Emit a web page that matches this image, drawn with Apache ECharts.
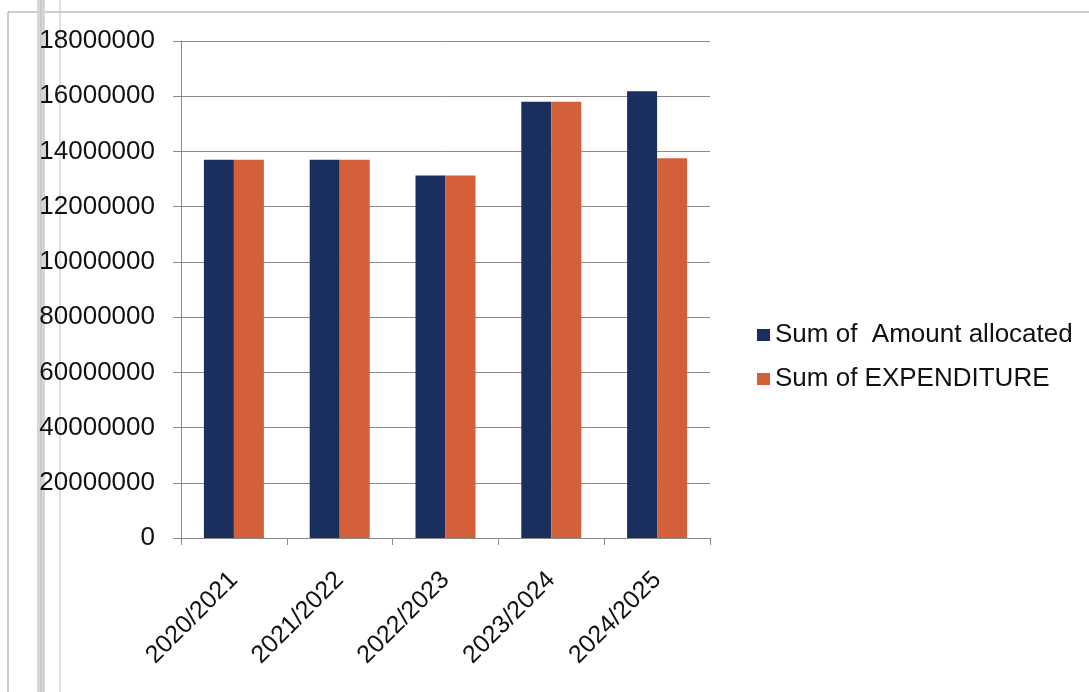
<!DOCTYPE html>
<html>
<head>
<meta charset="utf-8">
<script src="https://cdn.jsdelivr.net/npm/echarts@6/dist/echarts.min.js"></script>
<style>
html,body{margin:0;padding:0;background:#fff;}
#chart{width:1089px;height:692px;}
</style>
</head>
<body>
<div id="chart"></div>
<script>
const categories = ['2020/2021', '2021/2022', '2022/2023', '2023/2024', '2024/2025'];
const amountAllocated = [137000000, 137000000, 131300000, 158000000, 161800000];
const expenditure = [137000000, 137000000, 131300000, 158000000, 137500000];
const yTickLabels = ['0', '20000000', '40000000', '60000000', '80000000', '10000000', '12000000', '14000000', '16000000', '18000000'];
const seriesNames = ['Sum of  Amount allocated', 'Sum of EXPENDITURE'];

const chart = echarts.init(document.getElementById('chart'));
const FONT = 'Liberation Sans, Arial, sans-serif';
chart.setOption({
  animation: false,
  backgroundColor: '#ffffff',
  textStyle: { fontFamily: FONT },
  graphic: [
    { type: 'line', shape: { x1: 8, y1: 12, x2: 1089, y2: 12 }, style: { stroke: '#9a9a9a', lineWidth: 1 } },
    { type: 'line', shape: { x1: 8, y1: 12, x2: 8, y2: 692 }, style: { stroke: '#9a9a9a', lineWidth: 1 } },
    { type: 'rect', shape: { x: 37, y: 0, width: 8, height: 692 }, style: { fill: '#d6d6d6' } },
    { type: 'line', shape: { x1: 41, y1: 0, x2: 41, y2: 692 }, style: { stroke: '#bdbdbd', lineWidth: 1 } },
    { type: 'line', shape: { x1: 60, y1: 0, x2: 60, y2: 692 }, style: { stroke: '#c4c4cc', lineWidth: 1 } }
  ],
  legend: {
    orient: 'vertical',
    left: 752,
    top: 317,
    icon: 'rect',
    itemWidth: 13,
    itemHeight: 12,
    itemGap: 18,
    textStyle: { fontFamily: FONT, fontSize: 26, color: '#111' },
    data: seriesNames
  },
  grid: { left: 181, right: 379, top: 41, bottom: 154 },
  xAxis: {
    type: 'category',
    data: categories,
    axisLine: { lineStyle: { color: '#8a8a8a', width: 1 } },
    axisTick: { show: true, length: 7, lineStyle: { color: '#8a8a8a' } },
    axisLabel: { rotate: 45, interval: 0, fontSize: 25, color: '#111', fontFamily: FONT, margin: 38 }
  },
  yAxis: {
    type: 'value',
    min: 0,
    max: 180000000,
    interval: 20000000,
    axisLine: { show: true, lineStyle: { color: '#8a8a8a', width: 1 } },
    axisTick: { show: true, length: 8, lineStyle: { color: '#8a8a8a' } },
    splitLine: { lineStyle: { color: '#8a8a8a', width: 1 } },
    axisLabel: {
      fontSize: 26, color: '#111', fontFamily: FONT, margin: 26,
      formatter: function (v) { return yTickLabels[Math.round(v / 20000000)]; }
    }
  },
  series: [
    { name: seriesNames[0], type: 'bar', data: amountAllocated, barWidth: 30, barGap: '0%', itemStyle: { color: '#1b2f5e' } },
    { name: seriesNames[1], type: 'bar', data: expenditure, barWidth: 30, barGap: '0%', itemStyle: { color: '#d4603a' } }
  ]
});
</script>
</body>
</html>
